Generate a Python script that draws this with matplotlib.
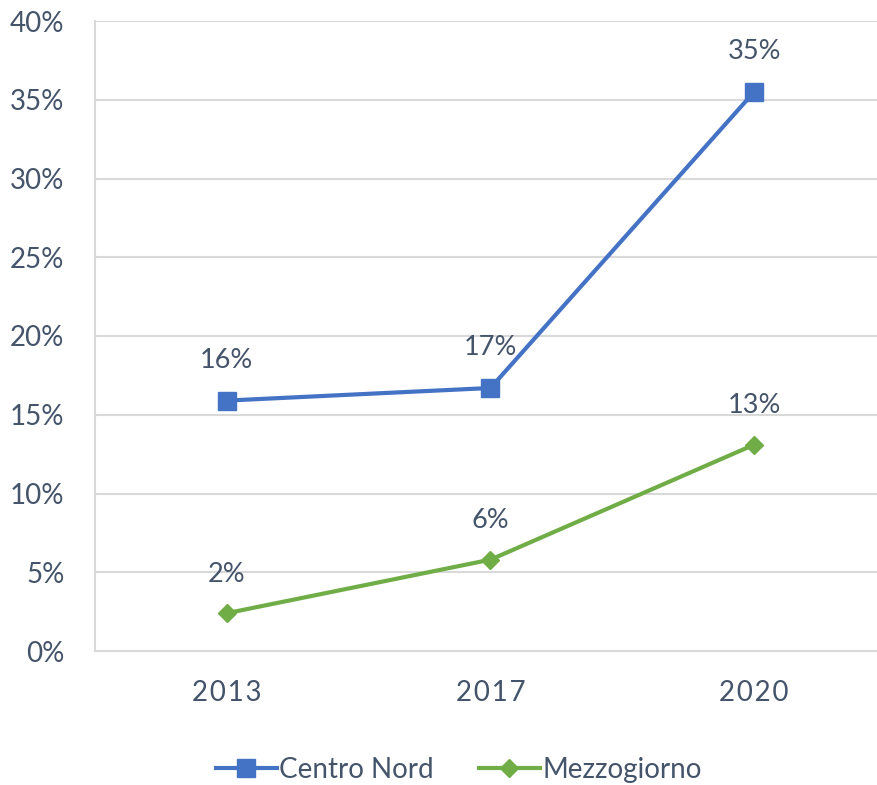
import matplotlib.pyplot as plt
from matplotlib.ticker import FuncFormatter

# data
years = ["2013", "2017", "2020"]
centro_nord = [15.9, 16.7, 35.5]
mezzogiorno = [2.4, 5.8, 13.1]
cn_labels = ["16%", "17%", "35%"]
mz_labels = ["2%", "6%", "13%"]

TEXT = "#44546A"
GRID = "#D9D9D9"
BLUE = "#4472C4"
GREEN = "#70AD47"

plt.rcParams["font.family"] = ["Lato", "DejaVu Sans"]

fig = plt.figure(figsize=(8.77, 7.85), dpi=100)
ax = fig.add_axes([95 / 877, 1 - 651 / 785, (886 - 95) / 877, (651 - 21) / 785])

x = list(range(len(years)))
ax.plot(x, centro_nord, color=BLUE, lw=3, marker="s", ms=12.5, label="Centro Nord")
ax.plot(x, mezzogiorno, color=GREEN, lw=3, marker="D", ms=9.5, label="Mezzogiorno")

for xi, v, t in zip(x, centro_nord, cn_labels):
    ax.annotate(t, (xi, v), xytext=(0, 29), textcoords="offset points",
                ha="center", va="center", fontsize=19.5, color=TEXT)
for xi, v, t in zip(x, mezzogiorno, mz_labels):
    ax.annotate(t, (xi, v), xytext=(0, 28), textcoords="offset points",
                ha="center", va="center", fontsize=19.5, color=TEXT)

ax.set_xlim(-0.5, 2.5)
ax.set_ylim(0, 40)
ax.set_yticks(range(0, 41, 5))
ax.yaxis.set_major_formatter(FuncFormatter(lambda v, p: f"{int(v)}%"))
ax.set_xticks(x)
# years are drawn letter-spaced in the reference
ax.set_xticklabels(["\u200a".join(y) for y in years])

ax.grid(axis="y", color=GRID, lw=1.5)
ax.set_axisbelow(True)
for s in ["top", "right"]:
    ax.spines[s].set_visible(False)
for s in ["left", "bottom"]:
    ax.spines[s].set_color(GRID)
    ax.spines[s].set_linewidth(1.5)
ax.tick_params(axis="y", length=0, pad=22, labelsize=20, labelcolor=TEXT)
ax.tick_params(axis="x", length=0, pad=21, labelsize=20, labelcolor=TEXT)

fig.legend(loc="center", bbox_to_anchor=(0.523, 1 - 770 / 785), ncol=2, frameon=False,
           fontsize=20, labelcolor=TEXT, handlelength=2.2, handletextpad=0.1,
           columnspacing=1.6)

fig.savefig("out.png", dpi=100)
